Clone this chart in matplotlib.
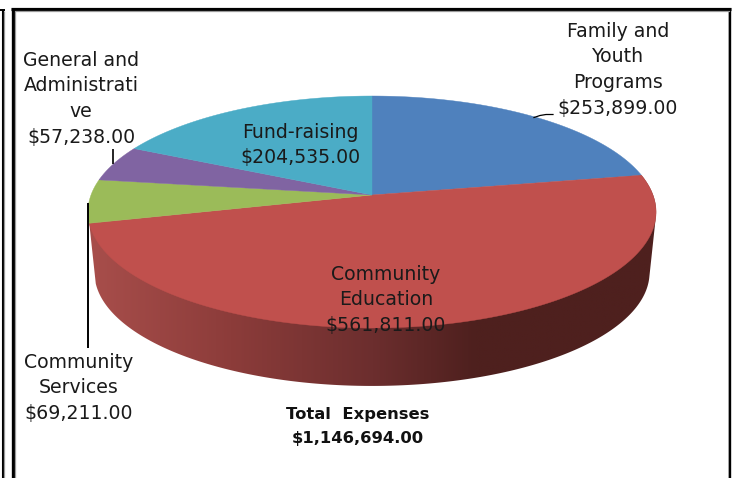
import numpy as np
import matplotlib
matplotlib.use("Agg")
import matplotlib.pyplot as plt
from matplotlib.patches import Polygon
from matplotlib.colors import LinearSegmentedColormap

# Expense categories, clockwise from twelve o'clock
categories = ["Family and Youth Programs", "Community Education", "Community Services",
              "General and Administrative", "Fund-raising"]
expenses = [253899, 561811, 69211, 57238, 204535]
slice_colors = ["#4f81bd", "#c0504d", "#9bbb59", "#8064a2", "#4bacc6"]
total_label = "Total  Expenses\n$1,146,694.00"

W, H = 736, 478
plt.rcParams["font.family"] = "DejaVu Sans"
fig = plt.figure(figsize=(W / 100, H / 100), dpi=100)
ax = fig.add_axes([0, 0, 1, 1])
ax.set_xlim(0, W)
ax.set_ylim(H, 0)
ax.axis("off")

# Tilted disc: perspective projection of a unit circle
CX, CY = 372.0, 195.0
B, A, K = 281.0, 113.5, 0.1466
DEPTH, SHRINK = 61.0, 0.977


def project(theta, scale=1.0, dy=0.0):
    X = np.sin(theta)
    Y = np.cos(theta)
    d = 1 + K * Y
    return CX + scale * B * X / d, CY + dy - scale * A * Y / d


def convex_hull(points):
    """Monotone chain hull of (x, y) points."""
    pts = sorted(map(tuple, points))

    def half(seq):
        out = []
        for p in seq:
            while len(out) > 1 and ((out[-1][0] - out[-2][0]) * (p[1] - out[-2][1])
                                    - (out[-1][1] - out[-2][1]) * (p[0] - out[-2][0])) <= 0:
                out.pop()
            out.append(p)
        return out[:-1]

    return np.array(half(pts) + half(pts[::-1]))


fractions = np.array(expenses, dtype=float) / sum(expenses)
edges = np.concatenate([[0], np.cumsum(fractions)]) * 2 * np.pi

# Side wall of the front slice, shaded smoothly from left to right
steps = np.linspace(edges[1], edges[2], 400)
tx, ty = project(steps)
bx, by = project(steps, scale=SHRINK, dy=DEPTH)
outline = convex_hull(np.column_stack([np.r_[tx, bx], np.r_[ty, by]]))
wall = Polygon(outline, closed=True, fc="none", ec="none", transform=ax.transData)
ax.add_patch(wall)
wall_cmap = LinearSegmentedColormap.from_list(
    "wall", [(0.0, "#a84e4b"), (0.25, "#8c3c3a"), (0.5, "#6c2e2e"), (0.68, "#4e201e"), (1.0, "#4e201e")])
shade = ax.imshow(np.linspace(0, 1, 600)[None, :], cmap=wall_cmap, aspect="auto",
                  extent=[89, 657, 400, 170], zorder=2, interpolation="bilinear")
shade.set_clip_path(wall)
ax.set_xlim(0, W)
ax.set_ylim(H, 0)

# Top face slices
for a0, a1, color in zip(edges[:-1], edges[1:], slice_colors):
    th = np.linspace(a0, a1, 200)
    x, y = project(th)
    pts = np.column_stack([np.r_[CX, x], np.r_[CY, y]])
    ax.add_patch(Polygon(pts, closed=True, fc=color, ec=color, lw=0.3, zorder=3))

# Double frame around the chart
black = "#000000"
ax.plot([12.5, 12.5], [H, 7.5], color=black, lw=2.4, zorder=5, solid_capstyle="butt")
ax.plot([11, 731], [8.7, 8.7], color=black, lw=2.3, zorder=5, solid_capstyle="butt")
ax.plot([730, 730], [7.5, H], color=black, lw=1.7, zorder=5, solid_capstyle="butt")
ax.plot([14.6, 14.6, 728.5], [H, 10.6, 10.6], color="#9a9a9a", lw=0.9, zorder=5)
ax.plot([728.4, 728.4], [10.6, H], color="#9a9a9a", lw=0.6, zorder=5)
ax.plot([2.6, 2.6], [H, 10], color=black, lw=1.5, zorder=5, solid_capstyle="butt")
ax.plot([4.2, 4.2], [H, 11], color="#9a9a9a", lw=0.9, zorder=5, solid_capstyle="butt")
ax.plot([0, 5], [10.2, 10.2], color=black, lw=1.4, zorder=5, solid_capstyle="butt")

# Leader lines
ax.plot([88, 88], [203, 348], color=black, lw=1.4, zorder=6, solid_capstyle="butt")
ax.plot([113, 113], [149, 164], color=black, lw=1.2, zorder=6, solid_capstyle="butt")
ax.plot([534, 540, 546, 553], [117.5, 115.5, 114.5, 114.5], color=black, lw=0.9, zorder=6)

# Slice labels
FS = 13.6
TEXT = "#1a1a1a"
LH = 25.7


def label(cx, mid_y, lines):
    for i, line in enumerate(lines):
        ax.text(cx, mid_y + i * LH, line, ha="center", va="center_baseline",
                fontsize=FS, color=TEXT, zorder=7)


label(618, 29, ["Family and", "Youth", "Programs", "$253,899.00"])
label(81, 58, ["General and", "Administrati", "ve", "$57,238.00"])
label(300, 130, ["Fund-raising", "$204,535.00"])
label(386, 272, ["Community", "Education", "$561,811.00"])
label(79, 360, ["Community", "Services", "$69,211.00"])

for i, line in enumerate(total_label.split("\n")):
    ax.text(358, 413 + i * 24, line, ha="center", va="center_baseline", fontsize=11.8,
            fontweight="bold", color="#111111", zorder=7)

fig.savefig("out.png", dpi=100, facecolor="white")
